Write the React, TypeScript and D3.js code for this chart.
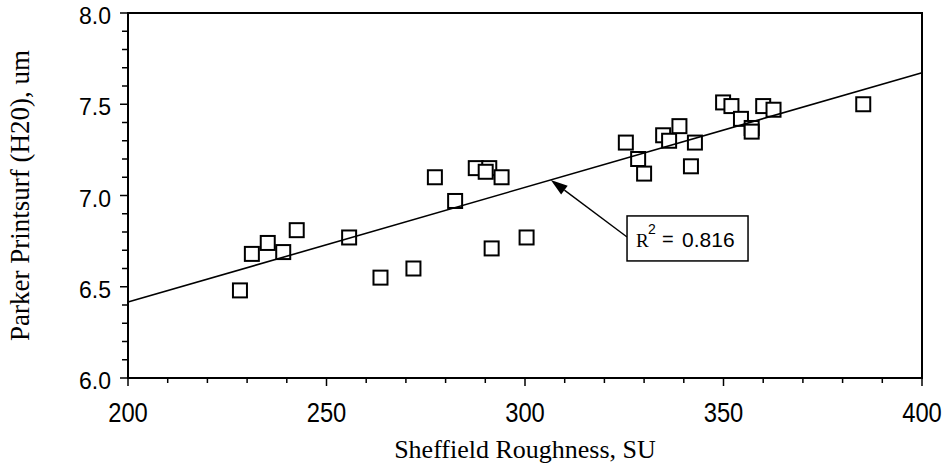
import React from "react";
import * as d3 from "d3";

// Sheffield roughness (SU) vs Parker Print-Surf (H2O) roughness (um)
const sheffield = [
  228.2, 231.2, 235.2, 239.1, 242.5, 255.7, 263.6, 271.9, 277.3, 282.4,
  287.6, 291.0, 290.1, 294.1, 291.6, 300.4, 325.4, 328.5, 330.0, 334.8,
  336.3, 338.9, 342.8, 341.8, 349.9, 352.0, 354.4, 357.1, 357.1, 360.0,
  362.6, 385.2,
];
const parker = [
  6.48, 6.68, 6.74, 6.69, 6.81, 6.77, 6.55, 6.6, 7.1, 6.97,
  7.15, 7.15, 7.13, 7.1, 6.71, 6.77, 7.29, 7.2, 7.12, 7.33,
  7.3, 7.38, 7.29, 7.16, 7.51, 7.49, 7.42, 7.37, 7.35, 7.49,
  7.47, 7.5,
];

// Linear fit endpoints
const fitX = [200, 400];
const fitY = [6.416, 7.673];
const rSquared = "0.816";
const arrowTargetX = 306.5;

const xTickLabels = [200, 250, 300, 350, 400];
const yTickLabels = ["6.0", "6.5", "7.0", "7.5", "8.0"];

const W = 946;
const H = 471;
const left = 128;
const right = 922;
const top = 13;
const bottom = 378;

export default function App() {
  const x = d3.scaleLinear().domain([200, 400]).range([left, right]);
  const y = d3.scaleLinear().domain([6, 8]).range([bottom, top]);

  const fitAt = (v: number) =>
    fitY[0] + ((v - fitX[0]) * (fitY[1] - fitY[0])) / (fitX[1] - fitX[0]);

  const line = d3
    .line<number>()
    .x((d) => x(d))
    .y((d) => y(fitAt(d)));

  const xMinor = d3.range(200, 401, 10);
  const yMinor = d3.range(0, 21).map((i) => 6 + i * 0.1);

  const sq = 14;

  // annotation geometry
  const tipX = x(arrowTargetX);
  const tipY = y(fitAt(arrowTargetX));
  const boxX = x(325.7);
  const boxY = y(6.888);
  const boxW = 121;
  const boxH = 45;
  const tailX = boxX;
  const tailY = boxY + 21;
  const ang = Math.atan2(tipY - tailY, tipX - tailX);
  const headLen = 17;
  const headHalf = 5.5;
  const bx = tipX - headLen * Math.cos(ang);
  const by = tipY - headLen * Math.sin(ang);
  const px = -Math.sin(ang) * headHalf;
  const py = Math.cos(ang) * headHalf;
  const head = `M${tipX},${tipY}L${bx + px},${by + py}L${bx - px},${by - py}Z`;

  const sans = "'Liberation Sans', Arial, sans-serif";
  const serif = "'Liberation Serif', 'Times New Roman', serif";

  return (
    <svg
      width={W}
      height={H}
      viewBox={`0 0 ${W} ${H}`}
      style={{ position: "absolute", left: 0, top: 0, background: "#fff" }}
    >
      <rect x={0} y={0} width={W} height={H} fill="#fff" />

      {/* y ticks */}
      {yMinor.map((v, i) => (
        <line
          key={`yt${i}`}
          x1={left - (i % 5 === 0 ? 8 : 6)}
          x2={left}
          y1={y(v)}
          y2={y(v)}
          stroke="#000"
          strokeWidth={1.5}
        />
      ))}
      {yTickLabels.map((t) => (
        <text
          key={`yl${t}`}
          x={left - 17}
          y={y(+t) + 5}
          textAnchor="end"
          dominantBaseline="middle"
          fontFamily={sans}
          fontSize={23}
          fill="#000"
        >
          {t}
        </text>
      ))}

      {/* x ticks */}
      {xMinor.map((v, i) => (
        <line
          key={`xt${i}`}
          x1={x(v)}
          x2={x(v)}
          y1={bottom}
          y2={bottom + (i % 5 === 0 ? 8 : 5)}
          stroke="#000"
          strokeWidth={1.5}
        />
      ))}
      {xTickLabels.map((t) => (
        <text
          key={`xl${t}`}
          transform={`translate(${x(t)}, 422) scale(0.88, 1)`}
          textAnchor="middle"
          fontFamily={sans}
          fontSize={27}
          fill="#000"
        >
          {t}
        </text>
      ))}

      {/* data points */}
      {sheffield.map((v, i) => (
        <rect
          key={`p${i}`}
          x={x(v) - sq / 2}
          y={y(parker[i]) - sq / 2}
          width={sq}
          height={sq}
          fill="#fff"
          stroke="#000"
          strokeWidth={2}
        />
      ))}

      {/* regression line */}
      <path d={line(fitX) ?? ""} fill="none" stroke="#000" strokeWidth={1.6} />

      {/* plot frame */}
      <rect
        x={left}
        y={top}
        width={right - left}
        height={bottom - top}
        fill="none"
        stroke="#000"
        strokeWidth={2}
      />

      {/* R² annotation */}
      <line x1={tailX} y1={tailY} x2={bx} y2={by} stroke="#000" strokeWidth={1.4} />
      <path d={head} fill="#000" />
      <rect
        x={boxX}
        y={boxY}
        width={boxW}
        height={boxH}
        fill="#fff"
        stroke="#000"
        strokeWidth={1.5}
      />
      <text x={boxX + 9} y={boxY + 31} fontFamily={serif} fontSize={19} fill="#000">
        R
      </text>
      <text x={boxX + 21} y={boxY + 18} fontFamily={sans} fontSize={14} fill="#000">
        2
      </text>
      <text x={boxX + 35} y={boxY + 30} fontFamily={sans} fontSize={20} fill="#000">
        =
      </text>
      <text x={boxX + 55} y={boxY + 31} fontFamily={sans} fontSize={21} fill="#000">
        {rSquared}
      </text>

      {/* axis titles */}
      <text
        x={(left + right) / 2}
        y={458}
        textAnchor="middle"
        fontFamily={serif}
        fontSize={26}
        fill="#000"
      >
        Sheffield Roughness, SU
      </text>
      <text
        transform={`translate(29, ${(top + bottom) / 2}) rotate(-90)`}
        textAnchor="middle"
        fontFamily={serif}
        fontSize={27}
        fill="#000"
      >
        Parker Printsurf (H20), um
      </text>
    </svg>
  );
}
